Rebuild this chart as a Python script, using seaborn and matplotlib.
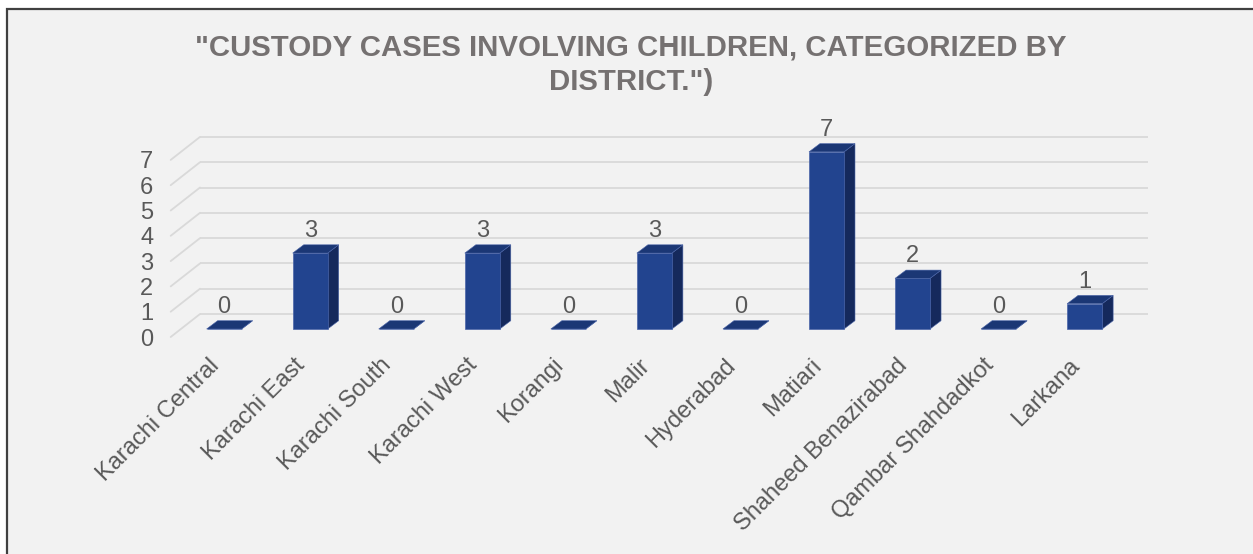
import matplotlib
matplotlib.use("Agg")
import matplotlib.pyplot as plt
import matplotlib.transforms as mtransforms
from matplotlib.patches import Polygon, Rectangle
import seaborn as sns
import pandas as pd

# ---------------- data ----------------
districts = ["Karachi Central", "Karachi East", "Karachi South", "Karachi West",
             "Korangi", "Malir", "Hyderabad", "Matiari", "Shaheed Benazirabad",
             "Qambar Shahdadkot", "Larkana"]
cases = [0, 3, 0, 3, 0, 3, 0, 7, 2, 0, 1]
yticks = [0, 1, 2, 3, 4, 5, 6, 7]
title = '"CUSTODY CASES INVOLVING CHILDREN, CATEGORIZED BY\nDISTRICT.")'

# ---------------- style ----------------
sns.set_theme(style="white")
plt.rcParams["font.family"] = ["Liberation Sans", "DejaVu Sans"]

FRONT = "#22448f"
SIDE = "#15295c"
TOP = "#1b3775"
GRID = "#d9d9d9"
TXT = "#595959"
TITLE = "#757171"
BG = "#f2f2f2"
FS = 17

W, H = 1253, 554
fig = plt.figure(figsize=(W / 100, H / 100), dpi=100, facecolor="white")
fig.patches.append(Rectangle((7 / W, -0.01), 1.02, (H - 9) / H + 0.01,
                             transform=fig.transFigure, facecolor=BG,
                             edgecolor="#404040", linewidth=1.6, zorder=-5))

# axes geometry (pixels)
ux, uy = 86.05, 25.3          # pixels per category / per unit
left_px = 181.1
bottom_px = 225 - uy
ax = fig.add_axes([left_px / W, bottom_px / H, 11 * ux / W, 9 * uy / H])
ax.set_zorder(1)
ax.set_xlim(-0.5, 10.5)
ax.set_ylim(-1, 8)
ax.patch.set_visible(False)
for s in ax.spines.values():
    s.set_visible(False)

# 3D projection offsets in data units
by = 15 / uy                               # back plane offset
back_x0, back_x1 = -0.280, 10.737
front_x, front_dy = -0.621, -8 / uy
ddx, ddy = 11.0 / ux, 8.3 / uy             # bar depth

# back-plane gridlines + floor diagonals
for v in yticks:
    ax.plot([back_x0, back_x1], [v + by, v + by], color=GRID, lw=1.3,
            zorder=1, clip_on=False, solid_capstyle="butt")
    ax.plot([front_x, back_x0], [v + front_dy, v + by], color=GRID, lw=1.3,
            zorder=1, clip_on=False)

df = pd.DataFrame({"district": districts, "cases": cases})
sns.barplot(data=df, x="district", y="cases", color=FRONT, saturation=1,
            width=0.407, ax=ax, zorder=3, edgecolor="#4a64a8", linewidth=0.5)

for p, v in zip(ax.patches, cases):
    x0, w, h = p.get_x(), p.get_width(), p.get_height()
    top = Polygon([(x0, h), (x0 + w, h), (x0 + w + ddx, h + ddy), (x0 + ddx, h + ddy)],
                  closed=True, facecolor=TOP, edgecolor="#4a64a8", lw=0.4, zorder=4)
    side = Polygon([(x0 + w, 0), (x0 + w + ddx, ddy), (x0 + w + ddx, h + ddy), (x0 + w, h)],
                   closed=True, facecolor=SIDE, edgecolor="#4a64a8", lw=0.4, zorder=2.9)
    ax.add_patch(top)
    ax.add_patch(side)
    ax.annotate(str(v), (x0 + w / 2, h), xytext=(0, 16 * 0.72), textcoords="offset points",
                ha="center", va="baseline", fontsize=FS, color=TXT, zorder=5)

ax.set_xlabel("")
ax.set_ylabel("")
ax.set_yticks(yticks)
ax.set_yticklabels([str(t) for t in yticks])
ax.tick_params(axis="y", length=0, pad=20, labelsize=FS, labelcolor=TXT)
shift_y = mtransforms.ScaledTranslation(0, -8 / 100, fig.dpi_scale_trans)
for lab in ax.get_yticklabels():
    lab.set_transform(lab.get_transform() + shift_y)

ax.set_xticks(range(len(districts)))
ax.set_xticklabels(districts, rotation=45, ha="right", rotation_mode="anchor")
ax.tick_params(axis="x", length=0, pad=0, labelsize=FS, labelcolor=TXT)
shift_x = mtransforms.ScaledTranslation(-16 / 100, 0, fig.dpi_scale_trans)
for lab in ax.get_xticklabels():
    lab.set_transform(lab.get_transform() + shift_x)

fig.text(631 / W, 1 - 33 / H, title, ha="center", va="top", fontsize=21.2,
         fontweight="bold", color=TITLE, linespacing=1.3)

fig.savefig("out.png", dpi=100, facecolor="white")
